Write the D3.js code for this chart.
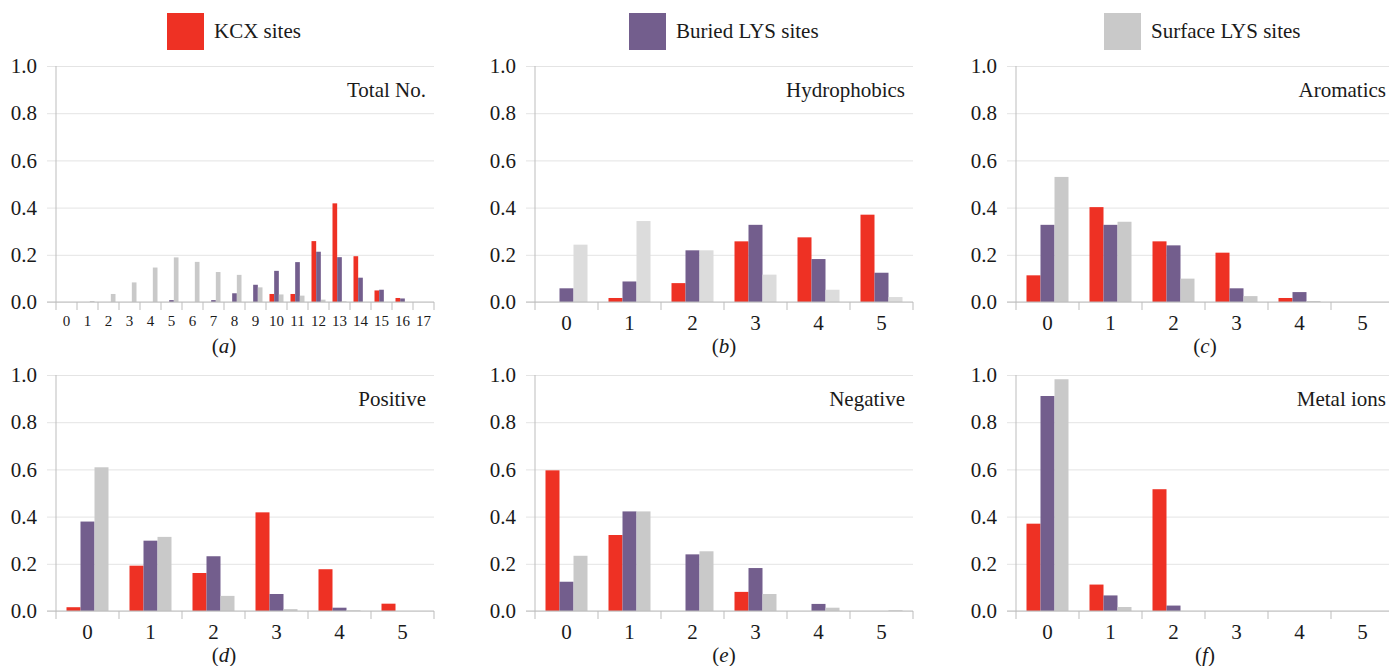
<!DOCTYPE html>
<html>
<head>
<meta charset="utf-8">
<script src="https://cdn.jsdelivr.net/npm/d3@7"></script>
<style>
	body { margin: 0; background: #fff; }
	.grid line { stroke: #e4e4e4; }
	.grid .domain { display: none; }
	.grid text { fill: #1a1a1a; font-size: 21px; }
	.axis--x .domain { display: none; }
	.axis--x text { fill: #1a1a1a; }
	.rule { stroke: #bdbdbd; stroke-width: 1; }
</style>
</head>
<body>
<div class="graphic"></div>
<script>
const series = ['KCX sites', 'Buried LYS sites', 'Surface LYS sites']
const colors = ['#ee3124', '#735e8d', '#c9c9c9']

const titles = ['Total No.', 'Hydrophobics', 'Aromatics', 'Positive', 'Negative', 'Metal ions']
const letters = ['a', 'b', 'c', 'd', 'e', 'f']

const countsTotal = d3.range(0, 18)
const countsSmall = [0, 1, 2, 3, 4, 5]
const yTicks = [0, 0.2, 0.4, 0.6, 0.8, 1.0]

// (a) total number
const totalKcx = [0, 0, 0, 0, 0, 0, 0, 0, 0, 0, 0.034, 0.034, 0.258, 0.418, 0.194, 0.049, 0.017, 0]
const totalBuried = [0, 0, 0, 0, 0, 0.008, 0, 0.008, 0.037, 0.073, 0.132, 0.169, 0.213, 0.19, 0.103, 0.052, 0.015, 0]
const totalSurface = [0, 0.004, 0.034, 0.083, 0.146, 0.189, 0.17, 0.127, 0.115, 0.062, 0.032, 0.027, 0.01, 0.003, 0, 0, 0, 0]

// (b) hydrophobics
const hydroKcx = [0, 0.017, 0.08, 0.257, 0.274, 0.37]
const hydroBuried = [0.058, 0.087, 0.219, 0.327, 0.182, 0.124]
const hydroSurface = [0.243, 0.343, 0.219, 0.116, 0.052, 0.021]

// (c) aromatics
const aroKcx = [0.113, 0.402, 0.257, 0.209, 0.017, 0]
const aroBuried = [0.327, 0.327, 0.24, 0.058, 0.042, 0]
const aroSurface = [0.53, 0.34, 0.099, 0.025, 0.004, 0]

// (d) positive
const posKcx = [0.016, 0.192, 0.161, 0.418, 0.177, 0.031]
const posBuried = [0.379, 0.298, 0.232, 0.072, 0.014, 0]
const posSurface = [0.609, 0.314, 0.064, 0.008, 0.003, 0]

// (e) negative
const negKcx = [0.596, 0.322, 0, 0.081, 0, 0]
const negBuried = [0.124, 0.422, 0.24, 0.182, 0.03, 0]
const negSurface = [0.234, 0.422, 0.253, 0.072, 0.014, 0.003]

// (f) metal ions
const metalKcx = [0.37, 0.112, 0.516, 0, 0, 0]
const metalBuried = [0.911, 0.066, 0.023, 0, 0, 0]
const metalSurface = [0.982, 0.017, 0, 0, 0, 0]

const panels = [
	{ cats: countsTotal, values: [totalKcx, totalBuried, totalSurface], tickFont: 15 },
	{ cats: countsSmall, values: [hydroKcx, hydroBuried, hydroSurface], tickFont: 21, gray: '#dcdcdc' },
	{ cats: countsSmall, values: [aroKcx, aroBuried, aroSurface], tickFont: 21 },
	{ cats: countsSmall, values: [posKcx, posBuried, posSurface], tickFont: 21 },
	{ cats: countsSmall, values: [negKcx, negBuried, negSurface], tickFont: 21 },
	{ cats: countsSmall, values: [metalKcx, metalBuried, metalSurface], tickFont: 21 },
].map((p, i) => ({ ...p, title: titles[i], letter: letters[i] }))

const W = 1389
const H = 666
const colLeft = [56, 535, 1016]
const rowTop = [66, 375]
const plotW = 378
const plotH = 236
const captionDx = [-21, 0, 0]
const serif = "'Liberation Serif', 'Times New Roman', Times, serif"

const svg = d3.select('.graphic').append('svg')
	.attr('width', W)
	.attr('height', H)

// legend
const legendX = [167, 629, 1104]
const legend = svg.append('g').attr('class', 'legend')
series.forEach((s, i) => {
	const item = legend.append('g').attr('transform', `translate(${legendX[i]},13)`)
	item.append('rect')
		.attr('width', 37)
		.attr('height', 37)
		.attr('fill', colors[i])
	item.append('text')
		.attr('x', 47)
		.attr('y', 25)
		.attr('font-size', 21)
		.attr('fill', '#1a1a1a')
		.text(s)
})

panels.forEach((p, i) => {
	const col = i % 3
	const row = Math.floor(i / 3)
	const g = svg.append('g')
		.attr('transform', `translate(${colLeft[col]},${rowTop[row]})`)

	const x0 = d3.scaleBand().domain(p.cats).range([0, plotW]).padding(0)
	const x1 = d3.scaleBand().domain([0, 1, 2]).range([0, x0.bandwidth()])
		.paddingInner(0).paddingOuter(0.75)
	const y = d3.scaleLinear().domain([0, 1]).range([plotH, 0])

	// grid + y labels
	g.append('g')
		.attr('class', 'grid')
		.attr('transform', 'translate(-9,0)')
		.call(d3.axisLeft(y).tickValues(yTicks).tickSize(-(plotW + 9)).tickPadding(10)
			.tickFormat(d3.format('.1f')))

	// bars
	const fills = colors.slice()
	if (p.gray) fills[2] = p.gray
	g.append('g')
		.selectAll('g')
		.data(p.values)
		.enter().append('g')
			.attr('fill', (d, k) => fills[k])
		.selectAll('rect')
		.data((d, k) => d.map((v, j) => ({ k, cat: p.cats[j], v })))
		.enter().append('rect')
			.attr('x', d => x0(d.cat) + x1(d.k))
			.attr('y', d => y(d.v))
			.attr('width', x1.bandwidth())
			.attr('height', d => y(0) - y(d.v))

	// axis lines
	g.append('line').attr('class', 'rule')
		.attr('x1', 0).attr('x2', 0).attr('y1', 0).attr('y2', plotH + 8)
	g.append('line').attr('class', 'rule')
		.attr('x1', -9).attr('x2', plotW).attr('y1', plotH).attr('y2', plotH)
	g.append('g')
		.selectAll('line')
		.data(p.cats.slice(1).map(c => x0(c)).concat([plotW]))
		.enter().append('line')
			.attr('class', 'rule')
			.attr('x1', d => d).attr('x2', d => d)
			.attr('y1', plotH).attr('y2', plotH + 8)

	// x labels
	g.append('g')
		.attr('class', 'axis axis--x')
		.attr('transform', `translate(0,${plotH})`)
		.call(d3.axisBottom(x0).tickSize(0).tickPadding(13))
		.selectAll('text')
			.attr('font-size', p.tickFont)

	// title
	g.append('text')
		.attr('x', plotW - 8)
		.attr('y', 31)
		.attr('text-anchor', 'end')
		.attr('font-size', 21)
		.attr('fill', '#1a1a1a')
		.text(p.title)

	// caption
	const cap = g.append('text')
		.attr('x', plotW / 2 + captionDx[col])
		.attr('y', plotH + 51)
		.attr('text-anchor', 'middle')
		.attr('font-size', 21)
		.attr('fill', '#1a1a1a')
	cap.append('tspan').text('(')
	cap.append('tspan').attr('font-style', 'italic').text(p.letter)
	cap.append('tspan').text(')')
})

// one serif face for every label
svg.selectAll('g').attr('font-family', null)
svg.selectAll('text').style('font-family', serif)
</script>
</body>
</html>
